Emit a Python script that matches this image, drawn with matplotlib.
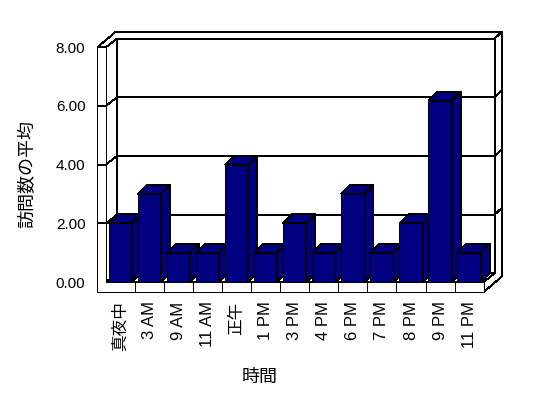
import matplotlib
matplotlib.use("Agg")
import matplotlib.pyplot as plt
from matplotlib.patches import Polygon

plt.rcParams["font.family"] = ["Liberation Sans", "Noto Sans CJK JP"]

# ---------------------------------------------------------------------------
# data

hours  = ["真夜中", "3 AM", "9 AM", "11 AM", "正午", "1 PM", "3 PM",
          "4 PM", "6 PM", "7 PM", "8 PM", "9 PM", "11 PM"]
visits = [2, 3, 1, 1, 4, 1, 2, 1, 3, 1, 2, 6.17, 1]

y_ticks  = [0, 2, 4, 6, 8]
y_labels = ["0.00", "2.00", "4.00", "6.00", "8.00"]

# ---------------------------------------------------------------------------
# pseudo 3d geometry (data units)

SX, SY  = 29.05, 29.35          # px per category / per value unit
D1      = (11 / SX, 8.6 / SY)   # depth of the plot box
D2      = (7 / SX, 6.6 / SY)    # thickness of the back wall
DB      = (9 / SX, 9 / SY)      # depth of one column
XL0     = -0.792                # left wall, outer front edge
XL1     = -0.5                  # left wall, inner front edge
XR      = len(hours) - 0.5      # floor, right front edge
FB      = -10 / SY              # floor bottom
TOP     = 8
BAR_W   = 0.8

NAVY    = "#000080"
LW      = 0.62

W, H = 548, 398
fig = plt.figure(figsize=(W / 100, H / 100), dpi=100)
ax = fig.add_axes([90 / W, 1 - 300 / H, 420 / W, 275 / H])
ax.set_xlim((90 - 120.5) / SX, (510 - 120.5) / SX)
ax.set_ylim((282 - 300) / SY, (282 - 25) / SY)
for s in ax.spines.values():
    s.set_visible(False)


def poly(pts, face="white", z=1):
    ax.add_patch(Polygon(pts, closed=True, facecolor=face, edgecolor="black",
                         linewidth=LW, zorder=z, joinstyle="miter",
                         antialiased=False))


def line(xs, ys, z=2):
    ax.plot(xs, ys, color="black", linewidth=LW, zorder=z,
            solid_joinstyle="miter", antialiased=False)


bx, by = D1
tx, ty = D1[0] + D2[0], D1[1] + D2[1]

# back wall face
poly([(XL1 + bx, by), (XR + bx, by), (XR + bx, TOP + by), (XL1 + bx, TOP + by)])
# top edges of the walls
poly([(XL0, TOP), (XL0 + tx, TOP + ty), (XR + tx, TOP + ty),
      (XR + bx, TOP + by), (XL1 + bx, TOP + by), (XL1, TOP)])
# right side of back wall + floor
poly([(XR, 0), (XR, FB), (XR + tx, FB + ty), (XR + tx, TOP + ty),
      (XR + bx, TOP + by), (XR + bx, by)])
# inner face of the left wall
poly([(XL1, 0), (XL1, TOP), (XL1 + bx, TOP + by), (XL1 + bx, by)])
# floor top
poly([(XL1, 0), (XR, 0), (XR + bx, by), (XL1 + bx, by)])
# left wall front + floor front
poly([(XL0, FB), (XR, FB), (XR, 0), (XL1, 0), (XL1, TOP), (XL0, TOP)])

# floor divisions
for i in range(len(hours) - 1):
    line([i + 0.5, i + 0.5], [FB, 0])

# gridlines
for v in y_ticks[1:-1]:
    line([XL0, XL1, XL1 + bx, XR + bx, XR + tx],
         [v, v, v + by, v + by, v + ty])

# columns, left to right so later ones cover earlier sides
xs = list(range(len(hours)))
bars = ax.bar(xs, visits, width=BAR_W, color=NAVY, edgecolor="black",
              linewidth=LW, zorder=3, antialiased=False)
dx, dy = DB
for i, (rect, h) in enumerate(zip(bars, visits)):
    l = rect.get_x()
    r = l + rect.get_width()
    z = 3 + i * 0.01
    rect.set_zorder(z)
    poly([(r, 0), (r + dx, dy), (r + dx, h + dy), (r, h)], face=NAVY, z=z)
    poly([(l, h), (r, h), (r + dx, h + dy), (l + dx, h + dy)], face=NAVY, z=z)

# ticks
ax.set_yticks(y_ticks, y_labels, fontsize=11)
ax.set_xticks(xs, hours, fontsize=12, rotation=90)
ax.tick_params(axis="y", length=0, pad=3.3)
ax.tick_params(axis="x", length=0, pad=1)

fig.text(260 / W, 1 - 377 / H, "時間", fontsize=13, ha="center", va="center")
fig.text(28 / W, 1 - 174 / H, "訪問数の平均", fontsize=13, rotation=90,
         ha="center", va="center")

fig.savefig("out.png", dpi=100)
